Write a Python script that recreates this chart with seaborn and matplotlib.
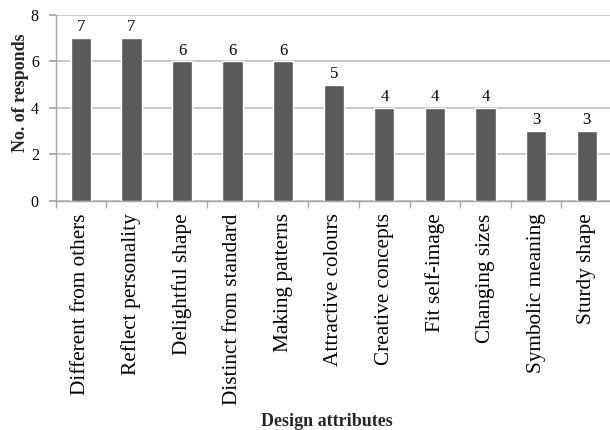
import numpy as np
import pandas as pd
import matplotlib
matplotlib.use("Agg")
import matplotlib.pyplot as plt
import seaborn as sns

attributes = ["Different from others", "Reflect personality", "Delightful shape",
              "Distinct from standard", "Making patterns", "Attractive colours",
              "Creative concepts", "Fit self-image", "Changing sizes",
              "Symbolic meaning", "Sturdy shape"]
responds = [7, 7, 6, 6, 6, 5, 4, 4, 4, 3, 3]
y_ticks = [0, 2, 4, 6, 8]

sns.set_theme(style="white")
plt.rcParams["font.family"] = ["Liberation Serif", "DejaVu Serif"]

df = pd.DataFrame({"attribute": attributes, "responds": responds})

fig = plt.figure(figsize=(6.1, 4.3), dpi=100)
ax = fig.add_axes([0.091, 0.533, 0.909, 0.432])

sns.barplot(data=df, x="attribute", y="responds", color="#595959",
            saturation=1, width=0.4, ax=ax, zorder=3)

for i, v in enumerate(responds):
    ax.annotate(str(v), xy=(i, v), xytext=(0, 5), textcoords="offset points",
                ha="center", va="baseline", fontsize=12, color="black")

ax.set_ylim(0, 8)
ax.set_yticks(y_ticks)
ax.set_xlim(-0.5, len(attributes) - 0.54)
ax.yaxis.grid(True, color="#bfbfbf", linewidth=1.2, zorder=0)
ax.set_axisbelow(True)

for side in ["top", "right"]:
    ax.spines[side].set_visible(False)
for side in ["left", "bottom"]:
    ax.spines[side].set_color("#a6a6a6")
    ax.spines[side].set_linewidth(1)

ax.tick_params(axis="y", which="major", left=True, length=5, color="#a6a6a6",
               labelsize=11.5, pad=7, labelcolor="black")
ax.set_xticks(range(len(attributes)))
ax.set_xticklabels(attributes, rotation=90, fontsize=15.3, color="black")
ax.tick_params(axis="x", which="major", length=0, pad=9)
ax.set_xticks(np.arange(-0.5, len(attributes) - 1, 1), minor=True)
ax.tick_params(axis="x", which="minor", bottom=True, length=5, color="#a6a6a6")

ax.set_ylabel("No. of responds", fontsize=13, fontweight="bold")
ax.yaxis.set_label_coords(-0.048, 0.58)
ax.set_xlabel("Design attributes", fontsize=13, fontweight="bold")
ax.xaxis.set_label_coords(0.49, -1.14)

fig.savefig("out.png", dpi=100)
